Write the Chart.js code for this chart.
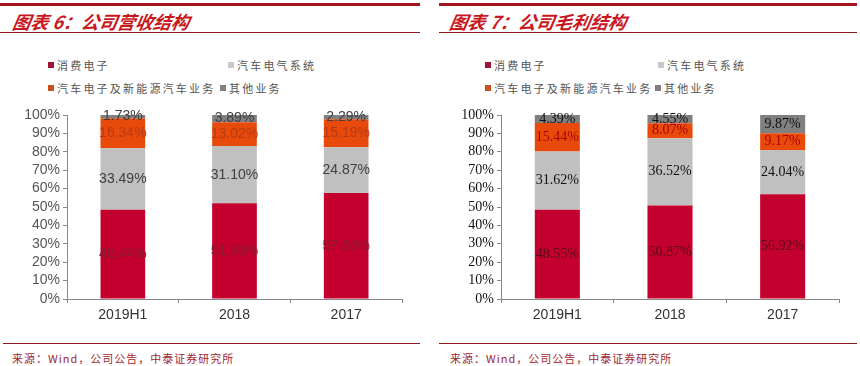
<!DOCTYPE html>
<html>
<head>
<meta charset="utf-8">
<script src="https://cdn.jsdelivr.net/npm/chart.js@4"></script>
<style>
  body { margin: 0; width: 860px; height: 366px; background: #fff; position: relative; overflow: hidden; }
  .panel { position: absolute; top: 0; width: 430px; height: 366px; }
  .topline { position: absolute; top: 3px; height: 3px; background: #a3161f; }
  .subline { position: absolute; top: 32px; height: 1px; background: #8c1a1f; }
  .botline { position: absolute; top: 343px; height: 1px; background: #8c1a1f; }
  .title { position: absolute; top: 8px; font-family: "Noto Sans CJK SC"; font-weight: bold; font-style: italic;
           font-size: 18px; color: #c8181e; transform: skewX(-10deg); white-space: nowrap; }
  .legend { position: absolute; font-family: "Noto Sans CJK SC"; font-size: 11px; color: #555; letter-spacing: 2.2px; white-space: nowrap; line-height: 14px; }
  .legend i { display: inline-block; width: 6px; height: 6px; margin-right: 3px; vertical-align: 2px; }
  .source { position: absolute; top: 350px; font-family: "Noto Sans CJK SC"; font-size: 11px; color: #a3262c; letter-spacing: 1px; white-space: nowrap; }
  canvas { position: absolute; top: 100px; left: 0; }
</style>
</head>
<body>
<div class="panel" id="left" style="left:0">
  <div class="topline" style="left:0;width:420px"></div>
  <div class="title" style="left:13px">图表 6：公司营收结构</div>
  <div class="subline" style="left:0;width:420px"></div>
  <div class="legend" style="left:48px;top:58px"><i style="background:#a0143c"></i>消费电子</div>
  <div class="legend" style="left:228px;top:58px"><i style="background:#c8c8c8"></i>汽车电气系统</div>
  <div class="legend" style="left:48px;top:81px"><i style="background:#c8501e"></i>汽车电子及新能源汽车业务</div>
  <div class="legend" style="left:220px;top:81px"><i style="background:#7f7f7f"></i>其他业务</div>
  <div class="botline" style="left:3px;width:417px"></div>
  <div class="source" style="left:12px">来源：Wind，公司公告，中泰证券研究所</div>
  <canvas id="revChart" width="430" height="235"></canvas>
</div>
<div class="panel" id="right" style="left:430px">
  <div class="topline" style="left:9px;width:418px"></div>
  <div class="title" style="left:20px">图表 7：公司毛利结构</div>
  <div class="subline" style="left:9px;width:418px"></div>
  <div class="legend" style="left:55px;top:58px"><i style="background:#a0143c"></i>消费电子</div>
  <div class="legend" style="left:228px;top:58px"><i style="background:#c8c8c8"></i>汽车电气系统</div>
  <div class="legend" style="left:55px;top:81px"><i style="background:#c8501e"></i>汽车电子及新能源汽车业务</div>
  <div class="legend" style="left:225px;top:81px"><i style="background:#7f7f7f"></i>其他业务</div>
  <div class="botline" style="left:9px;width:418px"></div>
  <div class="source" style="left:20px">来源：Wind，公司公告，中泰证券研究所</div>
  <canvas id="gpChart" width="430" height="235"></canvas>
</div>
<script>
// Categories shared by both charts
const categories = ["2019H1", "2018", "2017"];
const seriesNames = ["消费电子", "汽车电气系统", "汽车电子及新能源汽车业务", "其他业务"];

// Revenue structure (%)
const revConsumer = [48.44, 51.99, 57.65];
const revAutoElectric = [33.49, 31.10, 24.87];
const revNewEnergy = [16.34, 13.02, 15.19];
const revOther = [1.73, 3.89, 2.29];

// Gross profit structure (%)
const gpConsumer = [48.55, 50.87, 56.92];
const gpAutoElectric = [31.62, 36.52, 24.04];
const gpNewEnergy = [15.44, 8.07, 9.17];
const gpOther = [4.39, 4.55, 9.87];

const yTicks = [0, 10, 20, 30, 40, 50, 60, 70, 80, 90, 100];

const barColors = ["#c4002e", "#c0c0c0", "#e84a0c", "#808080"];

// Simple inline label plugin: writes each value in the middle of its bar segment
const segmentLabels = {
  id: 'segmentLabels',
  afterDatasetsDraw(chart, args, opts) {
    const ctx = chart.ctx;
    ctx.save();
    ctx.font = opts.font;
    ctx.textAlign = 'center';
    ctx.textBaseline = 'middle';
    chart.data.datasets.forEach((ds, i) => {
      const meta = chart.getDatasetMeta(i);
      meta.data.forEach((bar, j) => {
        const y = (bar.y + bar.base) / 2;
        ctx.fillStyle = opts.colors[i];
        ctx.fillText(ds.data[j].toFixed(2) + '%', bar.x, y);
      });
    });
    ctx.restore();
  }
};

function makeChart(id, values, tickFont, tickColor, labelFont, labelColors, axisLeft, padRight) {
  const datasets = values.map((data, i) => ({
    label: seriesNames[i],
    data: data,
    backgroundColor: barColors[i],
    borderWidth: 0,
    categoryPercentage: 1,
    barPercentage: 0.4
  }));

  return new Chart(document.getElementById(id).getContext('2d'), {
    type: 'bar',
    data: { labels: categories, datasets: datasets },
    plugins: [segmentLabels],
    options: {
      responsive: false,
      animation: false,
      layout: { padding: { top: 15, right: padRight, left: 0, bottom: 0 } },
      plugins: {
        legend: { display: false },
        tooltip: { enabled: false },
        segmentLabels: { font: labelFont, colors: labelColors }
      },
      scales: {
        x: {
          stacked: true,
          grid: { display: true, offset: true, drawOnChartArea: false, drawTicks: true, tickLength: 4, color: '#888' },
          border: { color: '#888' },
          ticks: { font: { family: 'Liberation Sans', size: 14 }, color: '#333', padding: 4 },
          afterFit: s => { s.height = 36; }
        },
        y: {
          stacked: true,
          min: 0,
          max: 100,
          afterBuildTicks: s => { s.ticks = yTicks.map(v => ({ value: v })); },
          grid: { display: true, drawOnChartArea: false, drawTicks: true, tickLength: 4, color: '#888' },
          border: { color: '#888' },
          ticks: { font: tickFont, color: tickColor, padding: 3, autoSkip: false, callback: v => v + '%' },
          afterFit: s => { s.width = axisLeft; }
        }
      }
    }
  });
}

makeChart('revChart',
  [revConsumer, revAutoElectric, revNewEnergy, revOther],
  { family: 'Liberation Sans', size: 14 }, '#555',
  '14px "Liberation Sans"', ['#8a1a30', '#404040', '#b83a14', '#404040'],
  67, 28);

makeChart('gpChart',
  [gpConsumer, gpAutoElectric, gpNewEnergy, gpOther],
  { family: 'Liberation Serif', size: 14 }, '#111',
  '14px "Liberation Serif"', ['#5a0a18', '#111', '#b00000', '#111'],
  71, 21);
</script>
</body>
</html>
